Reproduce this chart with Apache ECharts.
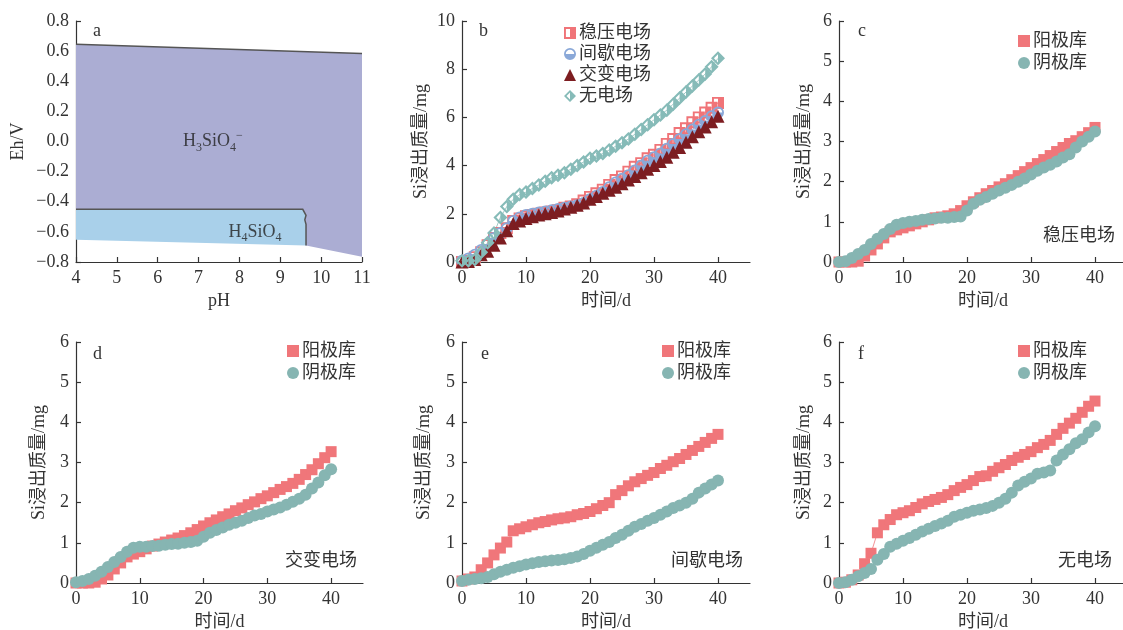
<!DOCTYPE html>
<html>
<head>
<meta charset="utf-8">
<script src="https://cdn.jsdelivr.net/npm/echarts@6/dist/echarts.min.js"></script>
<style>html,body{margin:0;padding:0;background:#fff}#c{width:1123px;height:630px}</style>
</head>
<body>
<div id="c"></div>
<script>
// ---------- DATA ----------
var days = [0,1,2,3,4,5,6,7,8,9,10,11,12,13,14,15,16,17,18,19,20,21,22,23,24,25,26,27,28,29,30,31,32,33,34,35,36,37,38,39,40];

// panel a: Eh-pH regions (pH, Eh)
var h3sio4Region = [[4,0.645],[11,0.585],[11,-0.765],[9.63,-0.69],[9.63,-0.55],[9.6,-0.52],[9.63,-0.49],[9.55,-0.45],[4,-0.45]];
var h4sio4Region = [[4,-0.45],[9.55,-0.45],[9.63,-0.49],[9.6,-0.52],[9.63,-0.55],[9.63,-0.69],[4,-0.652]];
var upperBoundary = [[4,0.645],[11,0.585]];
var h4Boundary = [[4,-0.45],[9.55,-0.45],[9.63,-0.49],[9.6,-0.52],[9.63,-0.55],[9.63,-0.69]];

// panel b: total Si leached (mg)
var bSteady = [0,0.05,0.2,0.4,0.7,1.0,1.2,1.4,1.7,1.8,1.9,1.95,2.0,2.05,2.1,2.15,2.25,2.3,2.4,2.55,2.7,2.85,3.0,3.2,3.4,3.55,3.75,3.95,4.1,4.3,4.45,4.65,4.9,5.1,5.35,5.55,5.8,6.0,6.2,6.4,6.6];
var bInterm = [0.05,0.15,0.3,0.5,0.75,1.0,1.2,1.4,1.7,1.85,1.95,2.0,2.05,2.1,2.15,2.2,2.25,2.3,2.35,2.45,2.6,2.75,2.9,3.1,3.3,3.45,3.6,3.8,4.0,4.2,4.35,4.5,4.7,4.9,5.1,5.3,5.5,5.7,5.85,6.05,6.2];
var bAltern = [0,0.02,0.1,0.3,0.45,0.7,1.0,1.3,1.6,1.7,1.8,1.88,1.95,2.0,2.05,2.12,2.2,2.27,2.35,2.45,2.6,2.72,2.85,2.98,3.1,3.25,3.4,3.55,3.7,3.85,4.0,4.17,4.35,4.55,4.75,4.97,5.2,5.4,5.6,5.82,6.05];
var bNone = [0.05,0.05,0.1,0.4,0.8,1.2,1.85,2.3,2.6,2.8,2.9,3.05,3.2,3.35,3.5,3.6,3.7,3.85,4.0,4.15,4.3,4.4,4.5,4.65,4.8,4.95,5.1,5.3,5.5,5.7,5.9,6.1,6.3,6.55,6.8,7.05,7.3,7.55,7.8,8.1,8.45];

// panel c: 稳压电场
var cAnode = [0,0,0,0.02,0.15,0.3,0.45,0.6,0.75,0.8,0.85,0.9,0.95,1.0,1.05,1.1,1.12,1.15,1.2,1.28,1.4,1.5,1.6,1.7,1.78,1.87,1.95,2.05,2.15,2.25,2.35,2.45,2.55,2.65,2.75,2.85,2.95,3.02,3.12,3.22,3.35];
var cCathode = [0,0.02,0.1,0.2,0.3,0.45,0.58,0.7,0.82,0.93,0.97,1.0,1.02,1.05,1.07,1.08,1.1,1.1,1.12,1.13,1.28,1.45,1.55,1.62,1.7,1.78,1.85,1.92,2.0,2.08,2.18,2.27,2.35,2.42,2.5,2.6,2.68,2.85,3.0,3.12,3.25];
// panel d: 交变电场
var dAnode = [0,0,0,0.02,0.1,0.2,0.35,0.5,0.65,0.72,0.78,0.85,0.92,0.97,1.02,1.07,1.12,1.18,1.25,1.33,1.42,1.5,1.57,1.65,1.72,1.8,1.87,1.95,2.02,2.1,2.17,2.25,2.33,2.4,2.48,2.58,2.7,2.82,2.97,3.12,3.27];
var dCathode = [0.02,0.05,0.1,0.18,0.28,0.4,0.52,0.65,0.78,0.88,0.9,0.9,0.92,0.93,0.95,0.97,0.98,1.0,1.02,1.05,1.15,1.25,1.32,1.38,1.45,1.5,1.55,1.62,1.68,1.72,1.78,1.83,1.88,1.95,2.02,2.1,2.2,2.35,2.5,2.68,2.83];
// panel e: 间歇电场
var eAnode = [0.05,0.1,0.15,0.33,0.5,0.7,0.87,1.02,1.3,1.35,1.4,1.45,1.5,1.53,1.57,1.6,1.62,1.65,1.7,1.73,1.78,1.85,1.93,2.0,2.2,2.3,2.42,2.52,2.6,2.68,2.75,2.85,2.93,3.02,3.1,3.2,3.3,3.4,3.5,3.6,3.7];
var eCathode = [0.05,0.08,0.1,0.12,0.15,0.22,0.28,0.33,0.38,0.42,0.46,0.49,0.52,0.54,0.56,0.57,0.59,0.62,0.66,0.72,0.8,0.88,0.95,1.02,1.12,1.2,1.3,1.4,1.47,1.55,1.62,1.7,1.78,1.87,1.93,2.0,2.1,2.25,2.35,2.45,2.55];
// panel f: 无电场
var fAnode = [0,0.02,0.08,0.2,0.48,0.74,1.25,1.45,1.58,1.7,1.75,1.8,1.88,1.97,2.03,2.08,2.13,2.2,2.3,2.38,2.45,2.55,2.65,2.67,2.78,2.87,2.95,3.05,3.13,3.2,3.27,3.37,3.45,3.55,3.7,3.85,3.98,4.1,4.25,4.4,4.53];
var fCathode = [0,0.02,0.08,0.17,0.25,0.35,0.58,0.72,0.9,0.98,1.05,1.12,1.2,1.28,1.35,1.42,1.48,1.55,1.65,1.7,1.75,1.8,1.83,1.87,1.92,2.0,2.1,2.25,2.43,2.52,2.6,2.72,2.75,2.8,3.05,3.2,3.33,3.48,3.58,3.75,3.9];

var timeTicks = [0,10,20,30,40];
var panelLetters = ['a','b','c','d','e','f'];
var conditionNames = ['稳压电场','间歇电场','交变电场','无电场'];
var chamberNames = ['阳极库','阴极库'];
var axisNames = {eh:'Eh/V', ph:'pH', si:'Si浸出质量/mg', time:'时间/d'};

// ---------- STYLE ----------
var FONT = "'Liberation Serif', 'Noto Sans CJK SC', serif";
var FS = 18;
var TXT = '#333';
var RED = '#f0767a', TEAL = '#86b5b2';
var B_RED = '#f07478', B_BLUE = '#8aa8d8', B_DARK = '#7d1d21', B_TEAL = '#86bbb8';
var SYM_SQUARE_HALF = 'path://M0 0L10 0L10 10L0 10Z M1.6 1.6L1.6 8.4L8.4 8.4L8.4 1.6Z M5 1.6L8.4 1.6L8.4 8.4L5 8.4Z';
var SYM_CIRCLE_HALF = 'path://M0 5A5 5 0 0 1 10 5A5 5 0 0 1 0 5Z M1.5 5A3.5 3.5 0 0 0 8.5 5A3.5 3.5 0 0 0 1.5 5Z M1.5 5L8.5 5A3.5 3.5 0 0 1 1.5 5Z';
var SYM_DIAMOND_HALF = 'path://M5 0L10 5L5 10L0 5Z M5 2.1L2.1 5L5 7.9L7.9 5Z M5 2.1L7.9 5L5 7.9Z';

function pairs(v){ return days.map(function(d,i){ return [d, v[i]]; }); }

var grids = [
  {left:76, top:21, width:286, height:241},
  {left:462, top:21, width:288, height:241},
  {left:839, top:21, width:288, height:241},
  {left:76, top:342, width:287, height:241},
  {left:462, top:342, width:288, height:241},
  {left:839, top:342, width:288, height:241}
].map(function(g){ g.outerBoundsMode='none'; g.containLabel=false; return g; });

function baseAxis(extra){
  var a = {
    axisLine:{show:true, onZero:false, lineStyle:{color:'#333', width:1.2}},
    axisTick:{show:true, inside:true, length:5, lineStyle:{color:'#333', width:1.2}},
    axisLabel:{color:TXT, fontFamily:FONT, fontSize:FS, margin:7},
    splitLine:{show:false},
    nameTextStyle:{color:TXT, fontFamily:FONT, fontSize:FS},
    nameLocation:'middle'
  };
  for (var k in extra) a[k] = extra[k];
  return a;
}

var xAxes = [], yAxes = [];
// a
xAxes.push(baseAxis({type:'value', gridIndex:0, min:4, max:11, interval:1, name:axisNames.ph, nameGap:30}));
yAxes.push(baseAxis({type:'value', gridIndex:0, min:-0.8, max:0.8, interval:0.2, name:axisNames.eh, nameGap:49,
  axisLabel:{color:TXT, fontFamily:FONT, fontSize:FS, margin:7, formatter:function(v){ return v.toFixed(1).replace('-','−'); }}}));
// b..f
var yNameGaps = [0, 32, 26, 28, 29, 26];
for (var gi = 1; gi < 6; gi++) {
  var xa = baseAxis({type:'value', gridIndex:gi, min:0, max:45, name:axisNames.time, nameGap:30});
  xa.axisTick.customValues = timeTicks;
  xa.axisLabel.customValues = timeTicks;
  xAxes.push(xa);
  yAxes.push(baseAxis({type:'value', gridIndex:gi, min:0, max:(gi===1?10:6), interval:(gi===1?2:1), name:axisNames.si, nameGap:yNameGaps[gi]}));
}

function polyRender(points){
  return function(params, api){
    var pts = points.map(function(p){ return api.coord(p); });
    return {type:'polygon', shape:{points:pts}, style:{fill:api.visual('color')}, silent:true};
  };
}
function lineRender(points){
  return function(params, api){
    var pts = points.map(function(p){ return api.coord(p); });
    return {type:'polyline', shape:{points:pts}, style:{stroke:'#555', lineWidth:1.5, fill:null}, silent:true};
  };
}

var series = [];
// panel a
series.push({type:'custom', xAxisIndex:0, yAxisIndex:0, data:[[0,0]], itemStyle:{color:'#abadd3'}, renderItem:polyRender(h3sio4Region), clip:true});
series.push({type:'custom', xAxisIndex:0, yAxisIndex:0, data:[[0,0]], itemStyle:{color:'#a9d0ea'}, renderItem:polyRender(h4sio4Region), clip:true});
series.push({type:'custom', xAxisIndex:0, yAxisIndex:0, data:[[0,0]], renderItem:lineRender(upperBoundary)});
series.push({type:'custom', xAxisIndex:0, yAxisIndex:0, data:[[0,0]], renderItem:lineRender(h4Boundary)});
var richF = {
  n:{fontFamily:FONT, fontSize:18, color:'#222'},
  s:{fontFamily:FONT, fontSize:12, color:'#222', verticalAlign:'bottom'},
  p:{fontFamily:FONT, fontSize:12, color:'#222', verticalAlign:'top'}
};
series.push({type:'scatter', xAxisIndex:0, yAxisIndex:0, symbolSize:0, silent:true,
  data:[{value:[7.35,0.0], label:{formatter:'{n|H}{s|3}{n|SiO}{s|4}{p|−}'}},
        {value:[8.38,-0.6], label:{formatter:'{n|H}{s|4}{n|SiO}{s|4}'}}],
  label:{show:true, position:'inside', lineHeight:24, rich:richF}});

// panel b
function lineSeries(name, gi, vals, color, symbol, size){
  return {type:'line', name:name, xAxisIndex:gi, yAxisIndex:gi, data:pairs(vals), color:color,
    symbol:symbol, symbolSize:size, showSymbol:true, showAllSymbol:true,
    lineStyle:{width:0.8, color:color}, itemStyle:{color:color, borderWidth:0}, emphasis:{disabled:true}, animation:false};
}
series.push(lineSeries(conditionNames[0], 1, bSteady, B_RED, SYM_SQUARE_HALF, 12));
series.push(lineSeries(conditionNames[1], 1, bInterm, B_BLUE, SYM_CIRCLE_HALF, 12));
series.push(lineSeries(conditionNames[2], 1, bAltern, B_DARK, 'triangle', 13));
series.push(lineSeries(conditionNames[3], 1, bNone, B_TEAL, SYM_DIAMOND_HALF, 14));

// panels c-f
var cf = [[cAnode,cCathode],[dAnode,dCathode],[eAnode,eCathode],[fAnode,fCathode]];
cf.forEach(function(pair, i){
  series.push(lineSeries(chamberNames[0], i+2, pair[0], RED, 'rect', 11));
  series.push(lineSeries(chamberNames[1], i+2, pair[1], TEAL, 'circle', 12));
});

// titles: panel letters and condition notes
var titleStyle = {fontFamily:FONT, fontSize:FS, fontWeight:'normal', color:TXT};
var letterPos = [[93,22],[479,22],[858,22],[93,345],[481,345],[858,345]];
var titles = panelLetters.map(function(l,i){ return {text:l, left:letterPos[i][0], top:letterPos[i][1], padding:0, textStyle:titleStyle}; });
var notePos = [[1043,227,0],[285,552,2],[671,552,1],[1058,552,3]];
notePos.forEach(function(p){ titles.push({text:conditionNames[p[2]], left:p[0], top:p[1], padding:0, textStyle:titleStyle}); });

var legendText = {fontFamily:FONT, fontSize:FS, color:TXT, padding:[0,0,0,-2]};
var legends = [
  {orient:'vertical', left:564, top:24, itemWidth:12, itemHeight:12, itemGap:3, padding:0, textStyle:legendText, selectedMode:false,
   data:[{name:conditionNames[0], icon:SYM_SQUARE_HALF},{name:conditionNames[1], icon:SYM_CIRCLE_HALF},{name:conditionNames[2], icon:'triangle'},{name:conditionNames[3], icon:SYM_DIAMOND_HALF}]}
];
var legPos = [[1018,32],[287,342],[662,342],[1018,342]];
legPos.forEach(function(p){
  legends.push({orient:'vertical', left:p[0], top:p[1], itemWidth:12, itemHeight:12, itemGap:4, padding:0, textStyle:legendText, selectedMode:false,
    data:[{name:chamberNames[0], icon:'rect'},{name:chamberNames[1], icon:'circle'}]});
});

var chart = echarts.init(document.getElementById('c'), null, {renderer:'canvas'});
chart.setOption({
  animation:false,
  backgroundColor:'#fff',
  textStyle:{fontFamily:FONT},
  title:titles,
  legend:legends,
  grid:grids,
  xAxis:xAxes,
  yAxis:yAxes,
  series:series
});
</script>
</body>
</html>
